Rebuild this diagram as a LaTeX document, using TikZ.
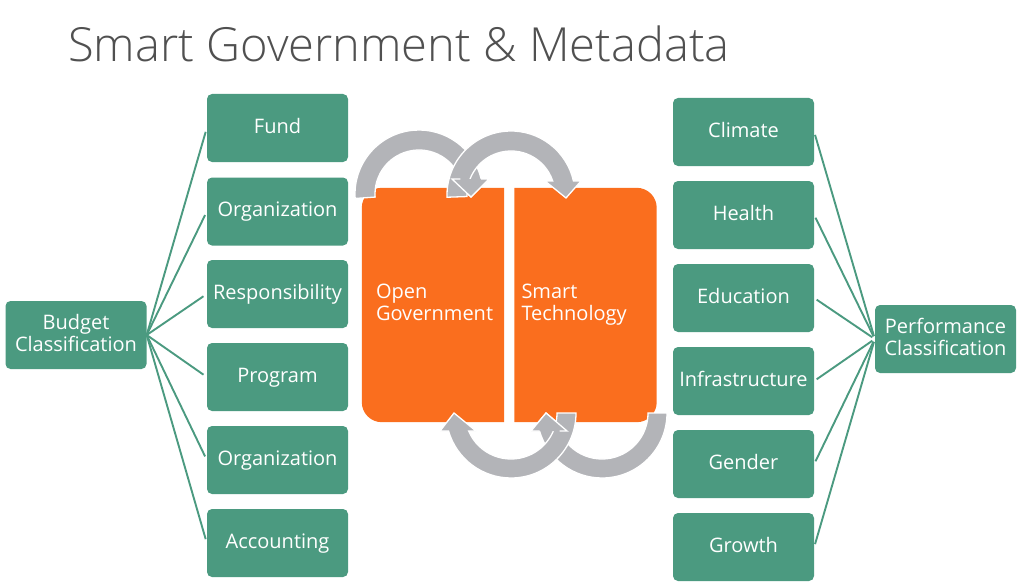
\documentclass[tikz,border=0pt]{standalone}
\usepackage{fontspec}
\setmainfont{Open Sans}
\IfFontExistsTF{Open Sans Light}{\newfontfamily\titlefont{Open Sans Light}}{\newfontfamily\titlefont{Open Sans}}
\usetikzlibrary{calc,backgrounds}
\definecolor{gboxc}{HTML}{4B9A80}
\definecolor{obox}{HTML}{FA6E1E}
\definecolor{garr}{HTML}{B3B4B8}
\definecolor{ttl}{HTML}{505050}
% #1 centre, #2 inner r, #3 outer r, #4 start angle, #5 outer end angle, #6 inner end angle, #7 outer wing, #8 tip, #9 inner wing
\newcommand\cycarrow[9]{\path[garrow] ($#1+(#4:#3)$) arc[start angle=#4,end angle=#5,radius=#3] -- #7 -- #8 -- #9 -- ($#1+(#6:#2)$) arc[start angle=#6,end angle=#4,radius=#2] -- cycle;}
\newcommand\cychead[9]{\fill[garr] ($#1+(#5:#3)$) -- #7 -- #8 -- #9 -- ($#1+(#6:#2)$) -- cycle;
  \draw[white,line width=1.3pt] ($#1+(#5:#3)$) -- #7 -- #8 -- #9 -- ($#1+(#6:#2)$);}
\begin{document}
\begin{tikzpicture}[x=1pt,y=-1pt,
  txt/.style={font=\fontsize{20}{22}\selectfont, text=white},
  gbox/.style={txt, fill=gboxc, rounded corners=5pt, minimum width=141pt, minimum height=68pt, inner sep=0pt, align=center},
  gone/.style={gbox, text height=15pt, text depth=5pt},
  obase/.style={txt, minimum width=142pt, minimum height=234pt, inner ysep=0pt, align=left},
  conn/.style={draw=gboxc, line width=1.9pt},
  garrow/.style={fill=garr, draw=white, line width=1.3pt},
]
\useasboundingbox (0,0) rectangle (1024,583);
\node[anchor=base west, inner sep=0pt, text=ttl, font=\titlefont\fontsize{47}{54}\selectfont] (title) at (68,62) {Smart Government \& Metadata};

\node[gbox] (budget) at (76,335) {Budget\\Classification\vphantom{g}};
\node[gone] (fund) at (277.5,128) {Fund};
\node[gone] (org1) at (277.5,211.5) {Organization};
\node[gone] (resp) at (277.5,294) {Responsibility};
\node[gone] (prog) at (277.5,377) {Program};
\node[gone] (org2) at (277.5,460) {Organization};
\node[gone] (acct) at (277.5,543) {Accounting};

\node[gone] (clim) at (743.5,132) {Climate};
\node[gone] (health) at (743.5,215) {Health};
\node[gone] (edu) at (743.5,298) {Education};
\node[gone] (infra) at (743.5,381) {Infrastructure};
\node[gone] (gender) at (743.5,464) {Gender};
\node[gone] (growth) at (743.5,547) {Growth};
\node[gbox] (perf) at (945.5,339) {Performance\\Classification\vphantom{g}};

\foreach \n in {fund,org1,resp,prog,org2,acct}
  \draw[conn, shorten >=4pt] (budget.east) -- (\n.west);
\foreach \n in {clim,health,edu,infra,gender,growth}
  \draw[conn, shorten <=3pt, shorten >=3pt] (\n.east) -- (perf.west);

\node[obase, inner xsep=14pt, text width=114pt] (open) at (433,305) {Open\\Government\vphantom{g}};
\node[obase, inner xsep=7pt, text width=128pt] (smart) at (585.5,305) {Smart\\Technology};
\begin{pgfonlayer}{background}
\fill[obox] (open.north) [rounded corners=20pt] -- (open.north west) -- (open.south west) -- (open.south) [sharp corners] -- (open.south east) -- (open.north east) -- cycle;
\fill[obox] (smart.south) [rounded corners=20pt] -- (smart.south east) -- (smart.north east) -- (smart.north) [sharp corners] -- (smart.north west) -- (smart.south west) -- cycle;
\end{pgfonlayer}

% top arrows
\cycarrow{(419,194)}{44}{64}{176}{346.45}{340.07}{(489,179)}{(471,197)}{(452,179)}
\cycarrow{(511,195)}{44}{64}{178}{347.36}{341.45}{(581,181)}{(566,198)}{(545,181)}
\cychead{(419,194)}{44}{64}{176}{346.45}{340.07}{(489,179)}{(471,197)}{(452,179)}
% bottom arrows
\cycarrow{(602,413)}{46}{65}{0}{163.92}{156.96}{(531,431)}{(546,413)}{(567,431)}
\cycarrow{(511,413)}{46}{65}{0}{163.92}{156.96}{(440,431)}{(454,413)}{(476,431)}
\cychead{(602,413)}{46}{65}{0}{163.92}{156.96}{(531,431)}{(546,413)}{(567,431)}
\end{tikzpicture}
\end{document}
